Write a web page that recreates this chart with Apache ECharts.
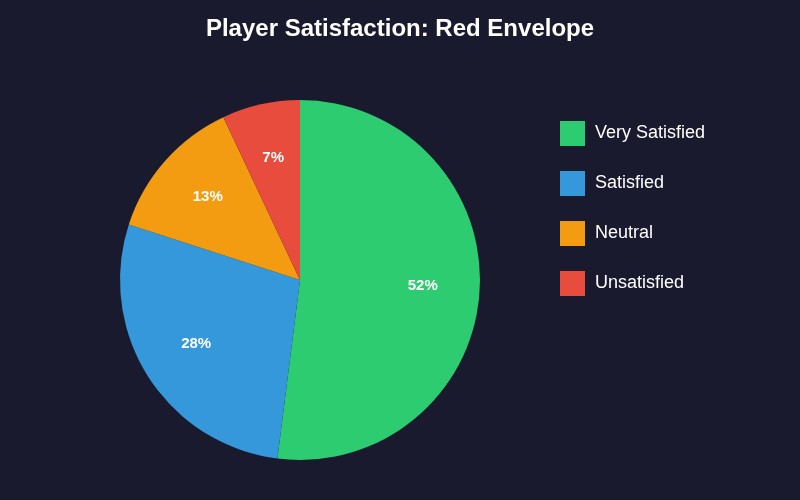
<!DOCTYPE html>
<html lang="en">
  <head>
    <meta charset="UTF-8" />
    <title>Player Satisfaction</title>
    <script src="https://cdn.jsdelivr.net/npm/echarts@6/dist/echarts.min.js"></script>
    <style>
      html, body { margin: 0; padding: 0; background: #1a1a2e; }
      #chart { width: 800px; height: 500px; }
    </style>
  </head>
  <body>
    <div id="chart"></div>
    <script>
      const categories = ['Very Satisfied', 'Satisfied', 'Neutral', 'Unsatisfied']
      const values = [52, 28, 13, 7]
      const colors = ['#2ecc71', '#3498db', '#f39c12', '#e74c3c']

      const font = '"Liberation Sans", Arial, Helvetica, sans-serif'
      const data = categories.map((name, i) => ({
        name,
        value: values[i],
        itemStyle: { color: colors[i] }
      }))

      const chart = echarts.init(document.getElementById('chart'))
      chart.setOption({
        backgroundColor: '#1a1a2e',
        animation: false,
        title: {
          text: 'Player Satisfaction: Red Envelope',
          left: 'center',
          top: 12,
          textStyle: { color: '#ffffff', fontSize: 24, fontWeight: 'bold', fontFamily: font }
        },
        legend: {
          orient: 'vertical',
          left: 555,
          top: 116,
          itemWidth: 25,
          itemHeight: 25,
          itemGap: 25,
          icon: 'rect',
          textStyle: { color: '#ffffff', fontSize: 18, fontFamily: font, padding: [0, 0, 0, 5] },
          data: categories
        },
        series: [
          {
            type: 'pie',
            center: [300, 280],
            radius: [0, 180],
            startAngle: 90,
            clockwise: true,
            label: { show: false },
            labelLine: { show: false },
            emphasis: { disabled: true },
            data
          },
          {
            // transparent ring only used to place the labels at 2/3 radius
            type: 'pie',
            center: [300, 280],
            radius: [60, 180],
            startAngle: 90,
            clockwise: true,
            silent: true,
            itemStyle: { color: 'transparent' },
            label: {
              show: true,
              position: 'inside',
              formatter: '{c}%',
              color: '#ffffff',
              fontSize: 15,
              fontWeight: 'bold',
              fontFamily: font,
              offset: [0, -2]
            },
            labelLine: { show: false },
            emphasis: { disabled: true },
            data: categories.map((name, i) => ({ name, value: values[i] }))
          }
        ]
      })
    </script>
  </body>
</html>
